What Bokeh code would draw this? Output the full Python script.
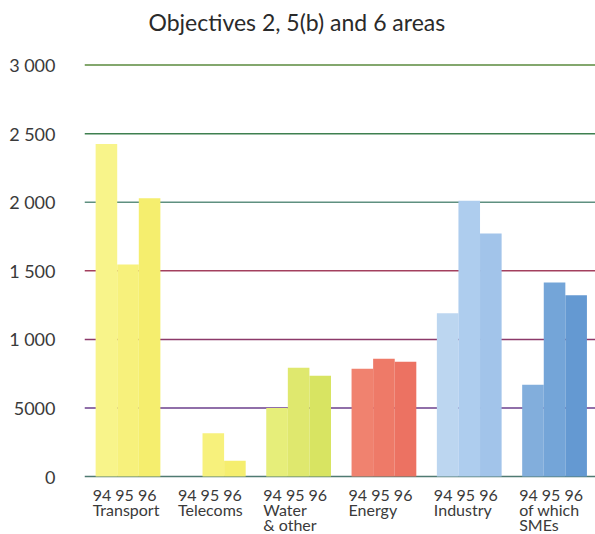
from bokeh.plotting import figure
from bokeh.models import ColumnDataSource, FixedTicker, Span, Range1d
from bokeh.core.properties import value
from bokeh.embed import file_html
from bokeh.resources import INLINE

# Spending by field and year
groups = ["Transport", "Telecoms", "Water", "Energy", "Industry", "of which"]
groups_line2 = ["", "", "& other", "", "", "SMEs"]
years = ["94", "95", "96"]
v94 = [2425, 0, 500, 786, 1190, 670]
v95 = [1547, 316, 794, 859, 2010, 1415]
v96 = [2029, 116, 735, 837, 1772, 1322]

y_ticks = [0, 500, 1000, 1500, 2000, 2500, 3000]
y_tick_labels = ["0", "5000", "1 000", "1 500", "2 000", "2 500", "3 000"]

# bar fills per group, one shade per year (lightest first)
colors94 = ["#f8f48a", "#f8f48a", "#e6ee7a", "#f0826f", "#bcd6f0", "#82aedc"]
colors95 = ["#f7f17c", "#f7f17c", "#dfe86e", "#ee7a68", "#aecdee", "#74a5d8"]
colors96 = ["#f5ee6e", "#f5ee6e", "#d8e462", "#ec7262", "#a2c4ea", "#6499d2"]

grid_colors = ["#4f7a72", "#6b3f8c", "#8c3a6a", "#a3405e", "#5f9080", "#3f8050", "#5a8a3c"]

FONT = "Lato"
TXT = "#3a3a3a"
bw = 0.253

xs, tops, fills = [], [], []
for i in range(len(groups)):
    for j, (vals, cols) in enumerate(((v94, colors94), (v95, colors95), (v96, colors96))):
        xs.append(i + (j - 1) * bw)
        tops.append(vals[i])
        fills.append(cols[i])
bars = ColumnDataSource(dict(x=xs, top=tops, fill=fills))

p = figure(width=595, height=534, output_backend="svg", toolbar_location=None,
           x_range=Range1d(-0.51, 5.48), y_range=Range1d(-422, 3179),
           min_border_left=84, min_border_right=0, min_border_top=37, min_border_bottom=0,
           title="Objectives 2, 5(b) and 6 areas")
p.outline_line_color = None
p.background_fill_color = "white"
p.xaxis.visible = False
p.xgrid.visible = False
p.ygrid.visible = False

p.title.text_font = FONT
p.title.text_font_size = "23px"
p.title.text_font_style = "normal"
p.title.text_color = "#2a2a2a"
p.title.align = "left"
p.title.offset = 64

ya = p.yaxis[0]
ya.ticker = FixedTicker(ticks=y_ticks)
ya.major_label_overrides = {t: s for t, s in zip(y_ticks, y_tick_labels)}
ya.axis_line_color = None
ya.major_tick_line_color = None
ya.minor_tick_line_color = None
ya.major_label_standoff = 23
ya.major_label_text_font = FONT
ya.major_label_text_font_size = "18px"
ya.major_label_text_color = TXT

for t, c in zip(y_ticks, grid_colors):
    p.add_layout(Span(location=t, dimension="width", line_color=c, line_width=1.5,
                      level="underlay"))

p.vbar(x="x", top="top", bottom=0, width=bw, source=bars, fill_color="fill",
       line_color=None)

lefts = [i - 1.5 * bw for i in range(len(groups))]
labels = ColumnDataSource(dict(x=lefts, y=[0] * len(groups),
                               yrs=[" ".join(years)] * len(groups),
                               l1=groups, l2=groups_line2))
common = dict(x="x", y="y", source=labels, text_align="left", text_baseline="alphabetic",
              text_font=value(FONT), text_font_size="16px", text_color=TXT)
p.text(text="yrs", x_offset=-3, y_offset=18, **common)
p.text(text="l1", x_offset=-3, y_offset=33, **common)
p.text(text="l2", x_offset=-3, y_offset=48, **common)

open("out.html", "w").write(file_html(p, INLINE))
